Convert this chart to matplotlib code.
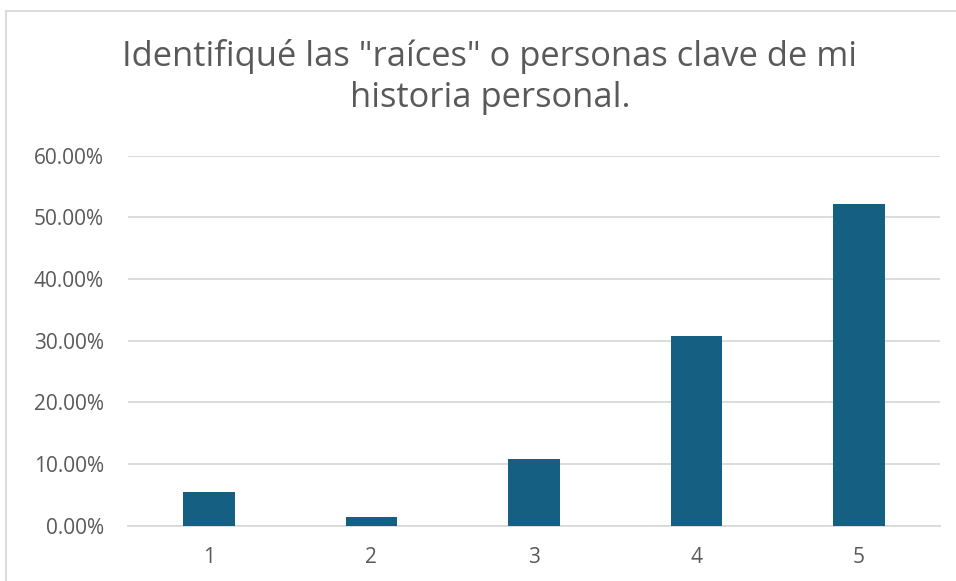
import matplotlib
matplotlib.use("Agg")
import matplotlib.pyplot as plt
from matplotlib.ticker import FuncFormatter, MultipleLocator
from matplotlib.patches import Rectangle

categories = ["1", "2", "3", "4", "5"]
values = [0.0541, 0.0141, 0.1077, 0.3080, 0.5210]
title = 'Identifiqué las "raíces" o personas clave de mi\nhistoria personal.'

plt.rcParams['font.family'] = ['Open Sans', 'DejaVu Sans']

fig = plt.figure(figsize=(9.56, 5.81), dpi=100)
fig.patch.set_facecolor('white')
# chart frame
fig.patches.append(Rectangle((5.5/956, -0.05), 1.0, 1 - 11/581 + 0.05, transform=fig.transFigure,
                             fill=False, edgecolor='#d9d9d9', linewidth=1.3))

ax = fig.add_axes([127.7/956, (581-525.7)/581, (940-127.7)/956, (525.7-155.7)/581])
x = range(len(categories))
ax.bar(x, values, width=0.317, color='#156082', zorder=3)
ax.set_xlim(-0.5, len(categories) - 0.5)
ax.set_ylim(0, 0.6)
ax.yaxis.set_major_locator(MultipleLocator(0.1))
ax.yaxis.set_major_formatter(FuncFormatter(lambda v, p: f"{v*100:.2f}%"))
ax.set_xticks(list(x))
ax.set_xticklabels(categories)
ax.grid(axis='y', color='#d9d9d9', linewidth=1.3, zorder=0)
for s in ['top', 'right', 'left']:
    ax.spines[s].set_visible(False)
ax.spines['bottom'].set_color('#d9d9d9')
ax.spines['bottom'].set_linewidth(1.3)
ax.tick_params(axis='both', length=0, labelsize=15, labelcolor='#595959')
ax.tick_params(axis='y', pad=17)
ax.tick_params(axis='x', pad=15)

fig.text(490/956, 1 - 77/581, title, ha='center', va='center', fontsize=24.8,
         color='#595959', linespacing=1.27)

fig.savefig('out.png', dpi=100, facecolor='white')
